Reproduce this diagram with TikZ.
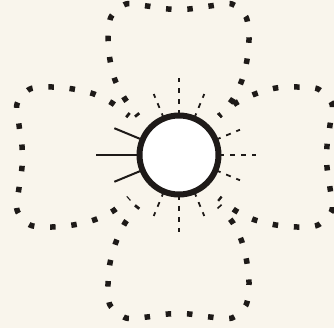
\documentclass[tikz,border=0pt]{standalone}
\usetikzlibrary{calc}
\definecolor{bg}{HTML}{F9F5EC}
\definecolor{ink}{HTML}{1E1A18}
\tikzset{
  petal/.style={draw=ink, line width=5.5pt, line cap=butt, dash pattern=on 5.5pt off 15.8pt, dash phase=2.75pt},
  dray/.style={draw=ink, line width=1.8pt, dash pattern=on 5pt off 6pt},
  sray/.style={draw=ink, line width=2pt},
  bulb/.style={draw=ink, fill=white, line width=6pt}
}
\begin{document}
\begin{tikzpicture}[x=1pt,y=-1pt]
\fill[bg] (0,0) rectangle (334,328);
\useasboundingbox (0,0) rectangle (334,328);
\coordinate (c) at (179,155);
% petals
\draw[petal] plot[smooth] coordinates {(138,116) (125,99) (115,80) (110,60) (108,38) (111,17) (126,4) (147,6) (168,9) (189,9) (210,6) (232,4) (246,17) (249,38) (247,60) (242,80) (233,99) (219,116)};
\draw[petal] plot[smooth] coordinates {(129,116) (112,103) (94,94) (73,89) (52,87) (30,89) (17,104) (19,125) (22,146) (22,167) (19,188) (17,210) (30,225) (52,227) (73,225) (94,220) (113,211) (129,198)};
\draw[petal] plot[smooth] coordinates {(219,116) (236,103) (255,94) (276,88) (297,87) (318,89) (332,104) (330,125) (327,146) (327,167) (330,188) (332,210) (318,225) (297,227) (276,225) (255,220) (236,211) (219,198)};
\draw[petal] plot[smooth] coordinates {(138,206) (125,223) (116,242) (110,263) (108,284) (110,305) (126,318) (147,317) (168,314) (189,314) (210,317) (232,318) (246,305) (249,284) (247,263) (242,242) (233,223) (219,206)};
% rays
\foreach \a in {-90,0,90} \draw[dray] ($(c)+(\a:40)$) -- ($(c)+(\a:77)$);
\foreach \a in {-112.5,-67.5,-22.5,22.5,67.5,112.5} \draw[dray] ($(c)+(\a:40)$) -- ($(c)+(\a:66)$);
\draw[sray] ($(c)+(180:40)$) -- ($(c)+(180:83)$);
\foreach \a in {157.5,202.5} \draw[sray] ($(c)+(\a:40)$) -- ($(c)+(\a:70)$);
% bulb
\draw[bulb] (c) circle[radius=39.5];
\end{tikzpicture}
\end{document}
